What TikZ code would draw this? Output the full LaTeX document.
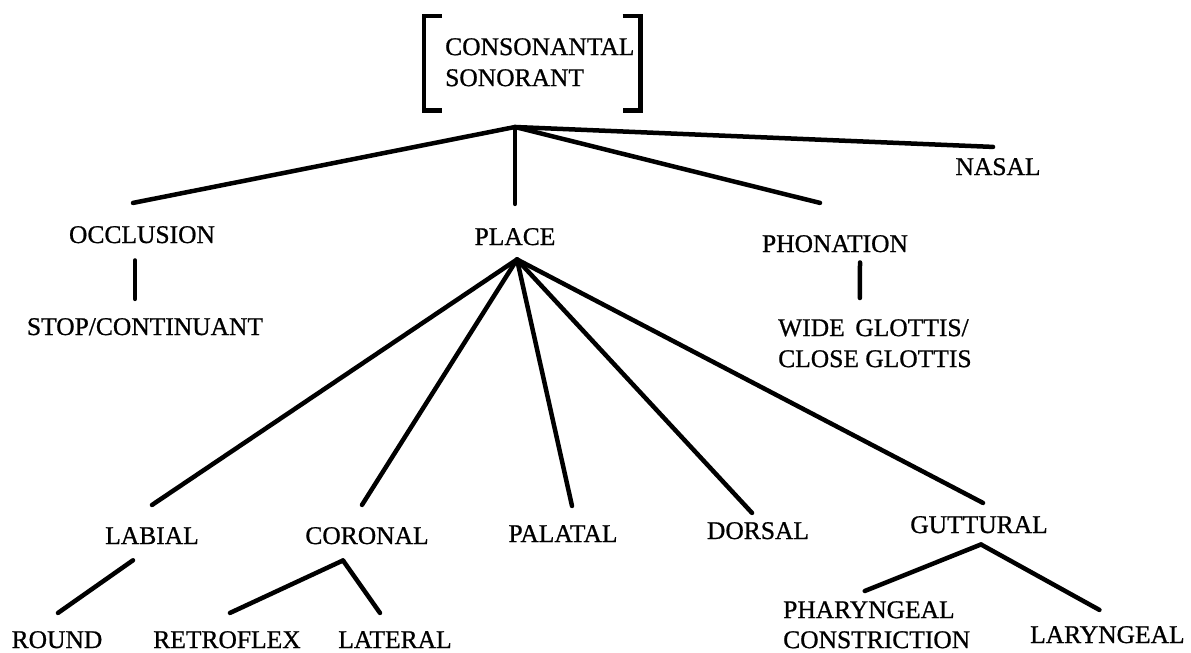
\documentclass[tikz,border=0pt]{standalone}
\usepackage{fontspec}
\setmainfont{Liberation Serif}
\newfontfamily\featfont{Liberation Serif}[FakeBold=0.8]
\tikzset{
  feat/.style={font=\featfont\fontsize{25.5}{31}\selectfont, inner sep=0pt, anchor=base},
  featpair/.style={feat, align=left, anchor=north west},
  branch/.style={line width=4.5pt, line cap=round},
  bracket/.style={line width=4.5pt, line cap=butt, line join=miter}
}
\begin{document}
\begin{tikzpicture}[x=1pt, y=-1pt]
    \useasboundingbox (0,0) rectangle (1191,653);
    \node[featpair] (root) at (445,38) {CONSONANTAL\\SONORANT};
    \draw[bracket] ([xshift=-3pt,yshift=22pt]root.north west) -| ([xshift=-21pt,yshift=-24pt]root.south west) -- ++(18,0);
    \draw[bracket] ([xshift=-12pt,yshift=22pt]root.north east) -| ([xshift=6pt,yshift=-24pt]root.south east) -- ++(-18,0);
    \coordinate (rootfoot) at (515,127);

    \node[feat] (occlusion) at (142,243) {OCCLUSION};
    \node[feat] (stop) at (145,335) {STOP/CONTINUANT};
    \node[feat] (place) at (515,245) {PLACE};
    \node[feat] (phonation) at (835,252) {PHONATION};
    \node[featpair] (glottis) at (778,319) {WIDE\, GLOTTIS/\\CLOSE GLOTTIS};
    \node[feat] (nasal) at (998,175) {NASAL};

    \node[feat] (labial) at (152,544) {LABIAL};
    \node[feat] (coronal) at (367,544) {CORONAL};
    \node[feat] (palatal) at (563,542) {PALATAL};
    \node[feat] (dorsal) at (758,539) {DORSAL};
    \node[feat] (guttural) at (979,533) {GUTTURAL};

    \node[feat] (round) at (57,648) {ROUND};
    \node[feat] (retroflex) at (227,648) {RETROFLEX};
    \node[feat] (lateral) at (395,648) {LATERAL};
    \node[featpair, font=\featfont\fontsize{25.5}{30}\selectfont] (pharyngeal) at (783,601) {PHARYNGEAL\\CONSTRICTION};
    \node[feat, anchor=base west] (laryngeal) at (1030,643) {LARYNGEAL};

    \coordinate (placefoot) at ([xshift=2pt,yshift=-14pt]place.south);
    \coordinate (coronalfoot) at ([xshift=-24pt,yshift=-16pt]coronal.south);
    \coordinate (gutturalfoot) at ([xshift=2pt,yshift=-11pt]guttural.south);

    \draw[branch] (rootfoot) -- ([xshift=-9pt,yshift=23pt]occlusion.north);
    \draw[branch] (rootfoot) -- ([yshift=24pt]place.north);
    \draw[branch] (rootfoot) -- ([xshift=-15pt,yshift=32pt]phonation.north);
    \draw[branch] (rootfoot) -- ([xshift=-5pt,yshift=11pt]nasal.north);

    \draw[branch] ([xshift=-7pt,yshift=-17pt]occlusion.south) -- ([xshift=-10pt,yshift=19pt]stop.north);
    \draw[branch] ([xshift=25pt,yshift=-10pt]phonation.south) -- ([xshift=-15pt,yshift=21pt]glottis.north);

    \draw[branch] (placefoot) -- ([yshift=22pt]labial.north);
    \draw[branch] (placefoot) -- ([xshift=-5pt,yshift=22pt]coronal.north);
    \draw[branch] (placefoot) -- ([xshift=9pt,yshift=19pt]palatal.north);
    \draw[branch] (placefoot) -- ([xshift=-6pt,yshift=9pt]dorsal.north);
    \draw[branch] (placefoot) -- ([xshift=4pt,yshift=13pt]guttural.north);

    \draw[branch] ([xshift=-19pt,yshift=-16pt]labial.south) -- ([xshift=1pt,yshift=18pt]round.north);
    \draw[branch] (coronalfoot) -- ([xshift=3pt,yshift=18pt]retroflex.north);
    \draw[branch] (coronalfoot) -- ([xshift=-15pt,yshift=18pt]lateral.north);
    \draw[branch] (gutturalfoot) -- ([xshift=-12pt,yshift=10pt]pharyngeal.north);
    \draw[branch] (gutturalfoot) -- ([xshift=-8pt,yshift=16pt]laryngeal.north);
\end{tikzpicture}
\end{document}
